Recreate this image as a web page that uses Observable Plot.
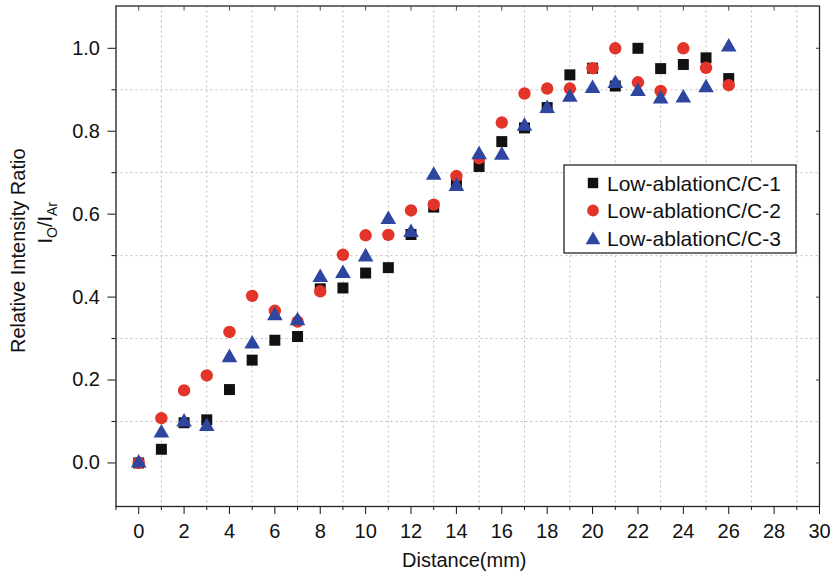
<!DOCTYPE html>
<html>
<head>
<meta charset="utf-8">
<script src="https://cdn.jsdelivr.net/npm/d3@7"></script>
<script src="https://cdn.jsdelivr.net/npm/@observablehq/plot@0.6"></script>
<style>
  html, body { margin: 0; padding: 0; background: white; }
  #chart { width: 833px; height: 578px; }
</style>
</head>
<body>
<div id="chart"></div>
<script>
// ---- data ----
const distance = [0,1,2,3,4,5,6,7,8,9,10,11,12,13,14,15,16,17,18,19,20,21,22,23,24,25,26];
const seriesNames = ["Low-ablationC/C-1", "Low-ablationC/C-2", "Low-ablationC/C-3"];
const c1 = [0.0, 0.033, 0.097, 0.104, 0.177, 0.248, 0.296, 0.305, 0.420, 0.422, 0.458, 0.471, 0.551, 0.617, 0.672, 0.715, 0.775, 0.808, 0.857, 0.936, 0.952, 0.909, 1.000, 0.951, 0.961, 0.977, 0.927];
const c2 = [0.0, 0.108, 0.175, 0.211, 0.316, 0.403, 0.367, 0.341, 0.414, 0.502, 0.549, 0.550, 0.609, 0.623, 0.692, 0.735, 0.821, 0.891, 0.903, 0.903, 0.952, 1.000, 0.918, 0.897, 1.000, 0.953, 0.911];
const c3 = [0.0, 0.072, 0.099, 0.088, 0.254, 0.287, 0.355, 0.343, 0.447, 0.457, 0.497, 0.587, 0.556, 0.694, 0.667, 0.743, 0.742, 0.812, 0.855, 0.882, 0.903, 0.915, 0.896, 0.878, 0.880, 0.905, 1.003];
const xMajorTicks = [0,2,4,6,8,10,12,14,16,18,20,22,24,26,28,30];
const xMinorTicks = [-1,1,3,5,7,9,11,13,15,17,19,21,23,25,27,29];
const yMajorTicks = [0.0, 0.2, 0.4, 0.6, 0.8, 1.0];
const yMinorTicks = [0.1, 0.3, 0.5, 0.7, 0.9];
const xTitle = "Distance(mm)";
const yTitle = "Relative Intensity Ratio";

// ---- style ----
const colors = ["#111111", "#e3342a", "#2e46a0"];
const symbols = ["square", "circle", "triangle"];
const radii = [6.2, 6.2, 5.8];
const FONT = "'Liberation Sans', Arial, Helvetica, sans-serif";

const rows = (ys) => distance.map((d, i) => ({x: d, y: ys[i]}));
const tables = [rows(c1), rows(c2), rows(c3)];

const gridStyle = {stroke: "#bdbdbd", strokeOpacity: 1, strokeWidth: 1, strokeDasharray: "2,3"};

const plot = Plot.plot({
  width: 833,
  height: 578,
  marginLeft: 115.5,
  marginRight: 14,
  marginTop: 5.5,
  marginBottom: 72,
  style: {fontFamily: FONT, fontSize: "20px", color: "#111", background: "white", overflow: "visible"},
  x: {domain: [-1, 30], label: null},
  y: {domain: [-0.105, 1.102], label: null},
  marks: [
    Plot.gridX(xMinorTicks, gridStyle),
    Plot.gridY(yMinorTicks, gridStyle),
    Plot.axisX(xMajorTicks, {anchor: "bottom", tickSize: 8, tickPadding: 9, fontSize: 20, label: null, stroke: "#111"}),
    Plot.axisX(xMinorTicks, {anchor: "bottom", tickSize: 4, tickFormat: () => "", label: null, stroke: "#111"}),
    Plot.axisX(xMajorTicks, {anchor: "top", tickSize: -4, tickFormat: () => "", label: null, stroke: "#444"}),
    Plot.axisY(yMajorTicks, {anchor: "left", tickSize: 8, tickPadding: 8, tickFormat: ".1f", fontSize: 20, label: null, stroke: "#111"}),
    Plot.axisY(yMinorTicks, {anchor: "left", tickSize: 4, tickFormat: () => "", label: null, stroke: "#111"}),
    Plot.axisY(yMajorTicks, {anchor: "right", tickSize: -4, tickFormat: () => "", label: null, stroke: "#444"}),
    ...tables.map((t, i) => Plot.dot(t, {x: "x", y: "y", symbol: () => symbols[i], r: radii[i], fill: colors[i], stroke: "none"})),
    Plot.frame({stroke: "#222", strokeWidth: 1.3})
  ]
});

document.getElementById("chart").appendChild(plot);

// ---- titles and legend ----
const svg = d3.select(plot);
const xs = plot.scale("x"), ys = plot.scale("y");
const frameLeft = xs.range[0], frameRight = xs.range[1];
const frameTop = ys.range[1], frameBottom = ys.range[0];

svg.append("text")
  .attr("x", (frameLeft + frameRight) / 2 - 3)
  .attr("y", frameBottom + 61)
  .attr("text-anchor", "middle")
  .attr("font-family", FONT).attr("font-size", 20).attr("fill", "#111")
  .text(xTitle);

const midY = (frameTop + frameBottom) / 2;
svg.append("text")
  .attr("transform", `translate(25,${midY - 5}) rotate(-90)`)
  .attr("text-anchor", "middle")
  .attr("font-family", FONT).attr("font-size", 20).attr("fill", "#111")
  .text(yTitle);

const sub = svg.append("text")
  .attr("transform", `translate(52,${midY - 33}) rotate(-90)`)
  .attr("text-anchor", "middle")
  .attr("font-family", FONT).attr("font-size", 20).attr("fill", "#111");
sub.append("tspan").text("I");
sub.append("tspan").attr("font-size", 14).attr("dy", 5).text("O");
sub.append("tspan").attr("dy", -5).text("/I");
sub.append("tspan").attr("font-size", 14).attr("dy", 5).text("Ar");

// legend
const lg = svg.append("g").attr("transform", "translate(564,165)");
lg.append("rect").attr("x", 0).attr("y", 0).attr("width", 232).attr("height", 88)
  .attr("fill", "white").attr("stroke", "#111").attr("stroke-width", 1.2);
const symMap = {square: d3.symbolSquare, circle: d3.symbolCircle, triangle: d3.symbolTriangle};
seriesNames.forEach((name, i) => {
  const cy = 18 + i * 27.5;
  lg.append("path")
    .attr("transform", `translate(29,${cy + (symbols[i] === "triangle" ? 2 : 0)})`)
    .attr("d", d3.symbol(symMap[symbols[i]], Math.PI * radii[i] * radii[i] * 0.9)())
    .attr("fill", colors[i]);
  lg.append("text")
    .attr("x", 43).attr("y", cy + 7.5)
    .attr("text-anchor", "start")
    .attr("font-family", FONT).attr("font-size", 21).attr("fill", "#111")
    .text(name);
});
</script>
</body>
</html>
